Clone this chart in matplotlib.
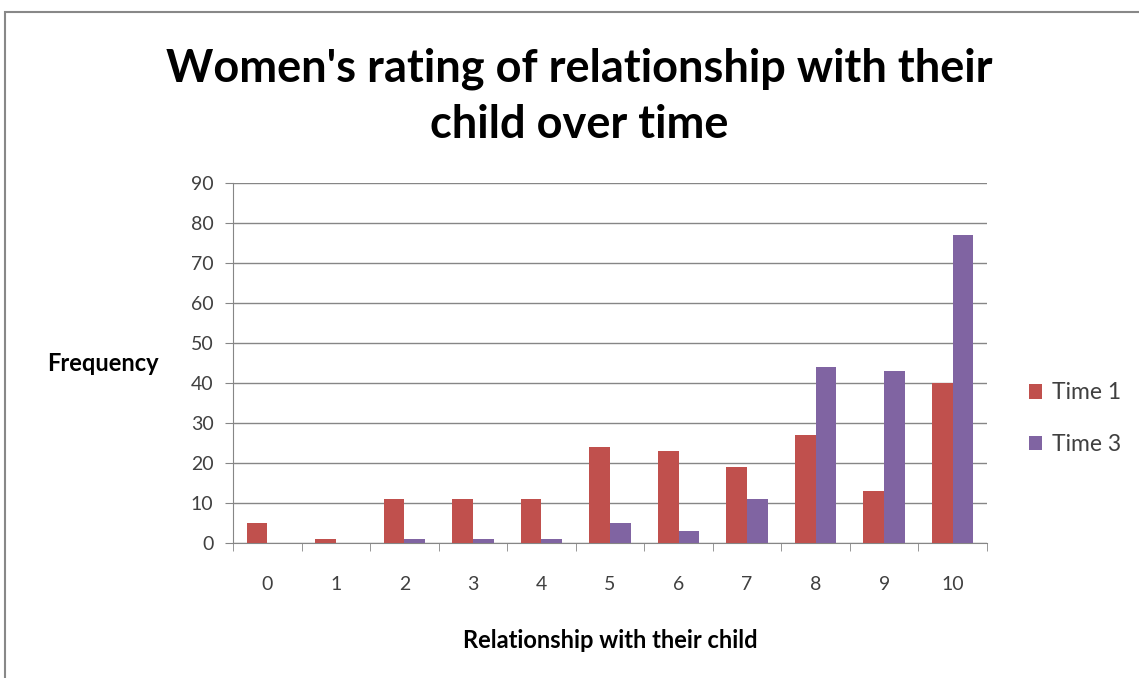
import matplotlib.pyplot as plt
import numpy as np
from matplotlib.patches import Rectangle

# data
ratings = ['0', '1', '2', '3', '4', '5', '6', '7', '8', '9', '10']
time1 = [5, 1, 11, 11, 11, 24, 23, 19, 27, 13, 40]
time3 = [0, 0, 1, 1, 1, 5, 3, 11, 44, 43, 77]

plt.rcParams['font.family'] = ['Lato', 'DejaVu Sans']

fig = plt.figure(figsize=(11.39, 6.78), dpi=100)
ax = fig.add_axes([233 / 1139, 1 - 543 / 678, 754 / 1139, 360 / 678])

x = np.arange(len(ratings))
w = 1 / 3.3
ax.bar(x - w / 2, time1, w, color='#C0504D', label='Time 1', zorder=3)
ax.bar(x + w / 2, time3, w, color='#8064A2', label='Time 3', zorder=3)

ax.set_xlim(-0.5, len(ratings) - 0.5)
ax.set_ylim(0, 90)
ax.set_yticks(range(0, 91, 10))
ax.set_xticks(x)
ax.set_xticklabels(ratings)
ax.set_xticks(np.arange(-0.5, len(ratings)), minor=True)
ax.tick_params(axis='x', which='major', length=0, pad=24, labelsize=14, labelcolor='#404040')
ax.tick_params(axis='x', which='minor', length=6, color='#868686')
ax.tick_params(axis='y', length=6, color='#868686', labelsize=14, labelcolor='#404040', pad=8)
ax.grid(axis='y', color='#868686', linewidth=1, zorder=0)
for s in ['top', 'right']:
    ax.spines[s].set_visible(False)
for s in ['left', 'bottom']:
    ax.spines[s].set_color('#868686')

ax.set_xlabel('Relationship with their child', fontsize=17, fontweight='bold', labelpad=26)
fig.text(47 / 1139, 1 - 363 / 678, 'Frequency', fontsize=17, fontweight='bold', va='center', ha='left')
fig.text(579 / 1139, 1 - 97 / 678, "Women's rating of relationship with their\nchild over time",
         fontsize=32.5, fontweight='bold', ha='center', va='center', linespacing=1.4)

leg = ax.legend(loc='center left', bbox_to_anchor=(1.028, 0.345), frameon=False, fontsize=16.5,
                handlelength=0.6, handleheight=0.6, handletextpad=0.4, labelspacing=1.35,
                labelcolor='#404040')

# outer chart border
fig.patches.append(Rectangle((5 / 1139, -0.1), 1.2, 1 - 12 / 678 + 0.1, transform=fig.transFigure,
                             fill=False, edgecolor='#888888', linewidth=1.5))

plt.savefig('out.png', dpi=100)
